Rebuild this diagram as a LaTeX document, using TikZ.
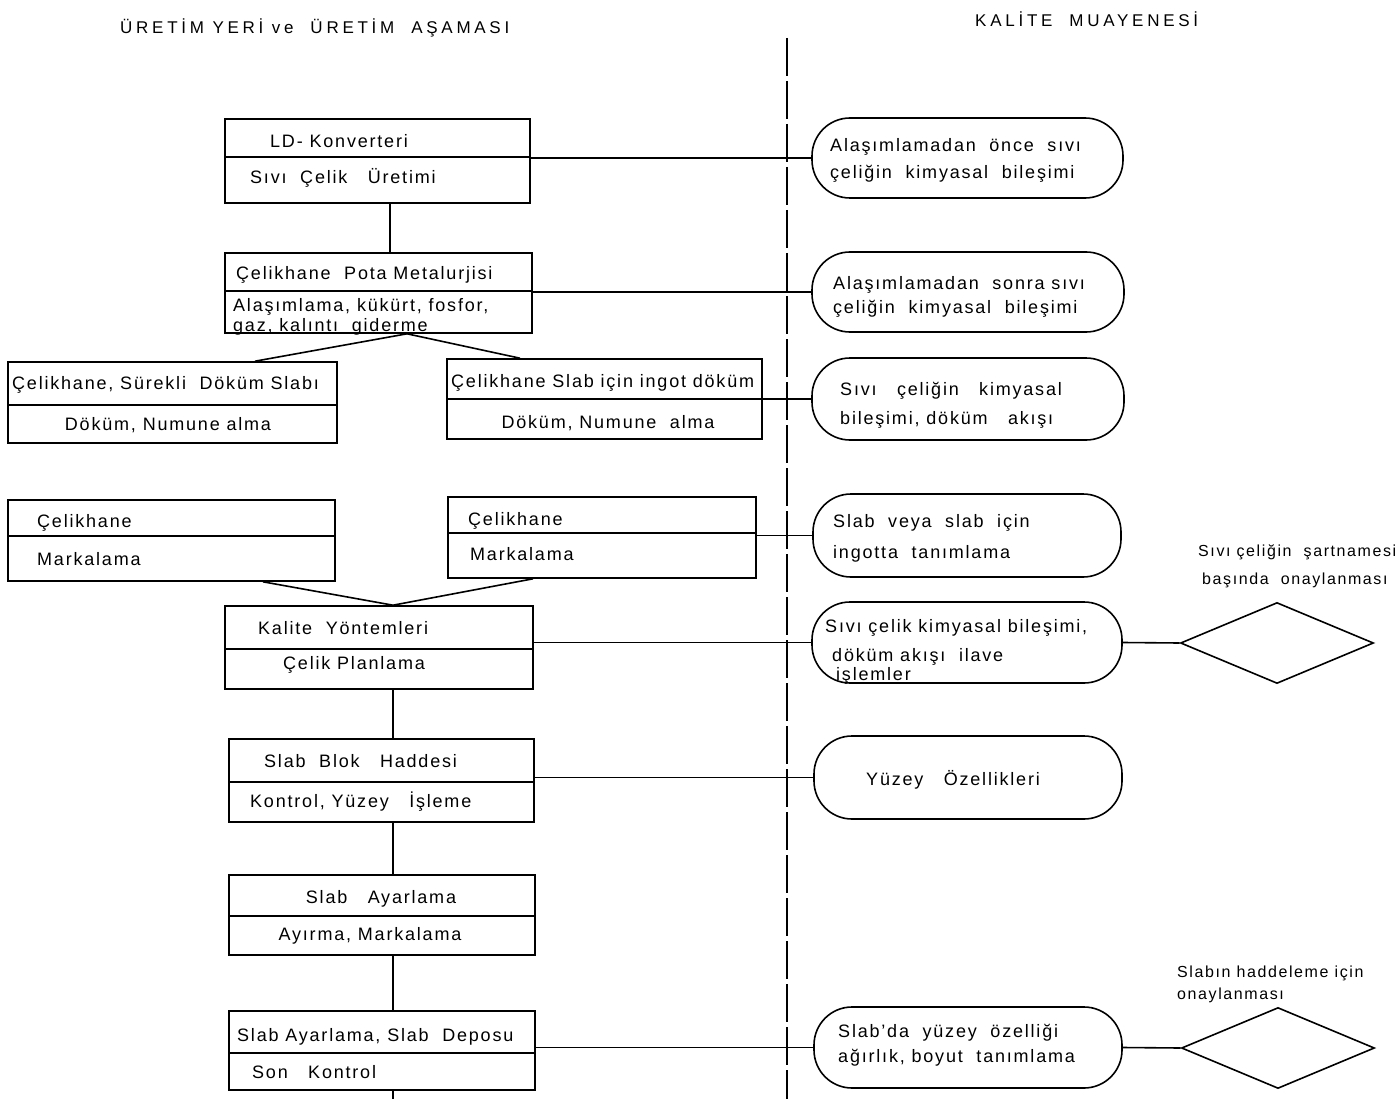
\documentclass[tikz,border=0pt]{standalone}
\usepackage{fontspec}
\setmainfont{Liberation Sans}
\usetikzlibrary{fit,shapes.geometric}
\begin{document}
\begin{tikzpicture}[x=1pt,y=-1pt,
  box/.style={draw, line width=1.6pt, inner sep=0pt},
  oval/.style={draw, line width=1.6pt, inner sep=0pt, rounded corners=38pt},
  dia/.style={draw, line width=1.6pt, shape=diamond, inner sep=0pt, minimum width=193pt, minimum height=81pt},
  conn/.style={line width=1.6pt},
  div/.style={line width=1.6pt},
  txt/.style={anchor=base west, inner sep=0pt, font=\fontsize{18}{21}\selectfont\addfontfeatures{LetterSpace=10}},
  ctxt/.style={anchor=base, inner sep=0pt, font=\fontsize{18}{21}\selectfont\addfontfeatures{LetterSpace=10}},
  lbl/.style={anchor=base west, inner sep=0pt, font=\fontsize{16}{19}\selectfont\addfontfeatures{LetterSpace=10}},
  hdr/.style={anchor=base west, inner sep=0pt, font=\fontsize{17}{20}\selectfont\addfontfeatures{LetterSpace=22}}]
\useasboundingbox (0,0) rectangle (1399,1099);
\fill[white] (0,0) rectangle (1399,1099);

% headers
\node[hdr] (h1) at (120,34) {ÜRETİM YERİ ve\ \ ÜRETİM\ \ AŞAMASI};
\node[hdr] (h2) at (975,27) {KALİTE\ \ MUAYENESİ};

% dashed divider
\coordinate (dtop) at (787,38);
\coordinate (dbot) at (787,1099);
\draw[line width=1.5pt, dash pattern=on 38pt off 5pt] (dtop) -- (dbot);

% left boxes
\node[box, fit={(225,119) (530,203)}] (b1) {};
\node[box, fit={(225,253) (532,333)}] (b2) {};
\node[box, fit={(8,362) (337,443)}] (b3) {};
\node[box, fit={(447,359) (762,439)}] (b4) {};
\node[box, fit={(8,500) (335,581)}] (b5) {};
\node[box, fit={(448,497) (756,578)}] (b6) {};
\node[box, fit={(225,606) (533,689)}] (b7) {};
\node[box, fit={(229,739) (534,822)}] (b8) {};
\node[box, fit={(229,875) (535,955)}] (b9) {};
\node[box, fit={(229,1011) (535,1090)}] (b10) {};

% dividers
\draw[div] (b1.west |- 0,157) -- (b1.east |- 0,157);
\draw[div] (b2.west |- 0,291) -- (b2.east |- 0,291);
\draw[div] (b3.west |- 0,405) -- (b3.east |- 0,405);
\draw[div] (b4.west |- 0,399) -- (b4.east |- 0,399);
\draw[div] (b5.west |- 0,536) -- (b5.east |- 0,536);
\draw[div] (b6.west |- 0,533) -- (b6.east |- 0,533);
\draw[div] (b7.west |- 0,649) -- (b7.east |- 0,649);
\draw[div] (b8.west |- 0,782) -- (b8.east |- 0,782);
\draw[div] (b9.west |- 0,916) -- (b9.east |- 0,916);
\draw[div] (b10.west |- 0,1053) -- (b10.east |- 0,1053);

% box texts
\node[txt] (t1a) at (270,148) {LD- Konverteri};
\node[txt] (t1b) at (250,184) {Sıvı\ \ Çelik\ \ \ Üretimi};
\node[txt] (t2a) at (236,279) {Çelikhane\ \ Pota Metalurjisi};
\node[txt] (t2b) at (233,311) {Alaşımlama, kükürt, fosfor,};
\node[txt] (t2c) at (233,331) {gaz, kalıntı\ \ giderme};
\node[txt] (t3a) at (12,389) {Çelikhane, Sürekli\ \ Döküm Slabı};
\node[ctxt] (t3b) at (168,430) {Döküm, Numune alma};
\node[txt] (t4a) at (451,387) {Çelikhane Slab için ingot döküm};
\node[ctxt] (t4b) at (608,428) {Döküm, Numune\ \ alma};
\node[txt] (t5a) at (37,527) {Çelikhane};
\node[txt] (t5b) at (37,565) {Markalama};
\node[txt] (t6a) at (468,525) {Çelikhane};
\node[txt] (t6b) at (470,560) {Markalama};
\node[txt] (t7a) at (258,634) {Kalite\ \ Yöntemleri};
\node[txt] (t7b) at (283,669) {Çelik\ Planlama};
\node[txt] (t8a) at (264,767) {Slab\ \ Blok\ \ \ Haddesi};
\node[txt] (t8b) at (250,807) {Kontrol, Yüzey\ \ \ İşleme};
\node[ctxt] (t9a) at (381,903) {Slab\ \ \ Ayarlama};
\node[ctxt] (t9b) at (370,940) {Ayırma, Markalama};
\node[txt] (t10a) at (237,1041) {Slab Ayarlama, Slab\ \ Deposu};
\node[txt] (t10b) at (252,1078) {Son\ \ \ Kontrol};

% ovals
\node[oval, fit={(812,118) (1123,198)}] (o1) {};
\node[oval, fit={(812,252) (1124,332)}] (o2) {};
\node[oval, fit={(812,358) (1124,440)}] (o3) {};
\node[oval, fit={(813,494) (1121,577)}] (o4) {};
\node[oval, fit={(812,602) (1122,683)}] (o5) {};
\node[oval, fit={(814,736) (1122,819)}] (o6) {};
\node[oval, fit={(814,1007) (1122,1088)}] (o7) {};

\node[txt] (s1a) at (830,152) {Alaşımlamadan\ \ önce\ \ sıvı};
\node[txt] (s1b) at (830,179) {çeliğin\ \ kimyasal\ \ bileşimi};
\node[txt] (s2a) at (833,289) {Alaşımlamadan\ \ sonra sıvı};
\node[txt] (s2b) at (833,313) {çeliğin\ \ kimyasal\ \ bileşimi};
\node[txt] (s3a) at (840,395) {Sıvı\ \ \ çeliğin\ \ \ kimyasal};
\node[txt] (s3b) at (840,424) {bileşimi, döküm\ \ \ akışı};
\node[txt] (s4a) at (833,527) {Slab\ \ veya\ \ slab\ \ için};
\node[txt] (s4b) at (833,558) {ingotta\ \ tanımlama};
\node[txt] (s5a) at (825,632) {Sıvı çelik\ kimyasal\ bileşimi,};
\node[txt] (s5b) at (832,661) {döküm\ akışı\ \ ilave};
\node[txt] (s5c) at (836,680) {işlemler};
\node[txt] (s6a) at (866,785) {Yüzey\ \ \ Özellikleri};
\node[txt] (s7a) at (838,1037) {Slab'da\ \ yüzey\ \ özelliği};
\node[txt] (s7b) at (838,1062) {ağırlık, boyut\ \ tanımlama};

% diamonds
\node[dia] (d1) at (1277,643) {};
\node[dia] (d2) at (1278,1048) {};
\node[lbl] (l1a) at (1198,556) {Sıvı\ çeliğin\ \ şartnamesi};
\node[lbl] (l1b) at (1202,584) {başında\ \ onaylanması};
\node[lbl] (l2a) at (1177,977) {Slabın haddeleme için};
\node[lbl] (l2b) at (1177,999) {onaylanması};

% vertical connectors
\coordinate (vx1) at (390,0);
\coordinate (vx2) at (393,0);
\draw[conn] (b1.south -| vx1) -- (b2.north -| vx1);
\draw[conn] (b7.south -| vx2) -- (b8.north -| vx2);
\draw[conn] (b8.south -| vx2) -- (b9.north -| vx2);
\draw[conn] (b9.south -| vx2) -- (b10.north -| vx2);
\coordinate (bend) at (393,1099);
\draw[conn] (b10.south -| vx2) -- (bend);

% branch connectors
\coordinate (ax) at (407,0);
\coordinate (lx3) at (255,0);
\coordinate (lx4) at (520,0);
\draw[conn] (b2.south -| ax) -- (b3.north -| lx3);
\draw[conn] (b2.south -| ax) -- (b4.north -| lx4);
\coordinate (lx5) at (263,0);
\coordinate (lx6) at (533,0);
\draw[conn] (b5.south -| lx5) -- (b7.north -| vx2);
\draw[conn] (b6.south -| lx6) -- (b7.north -| vx2);

% horizontal connectors to the quality column
\draw[conn] (b1.east |- o1.west) -- (o1.west);
\draw[conn] (b2.east |- o2.west) -- (o2.west);
\draw[conn] (b4.east |- o3.west) -- (o3.west);
\draw[conn] (b6.east |- o4.west) -- (o4.west);
\draw[conn] (b7.east |- o5.west) -- (o5.west);
\draw[conn] (b8.east |- o6.west) -- (o6.west);
\draw[conn] (b10.east |- o7.west) -- (o7.west);
\draw[conn] (o5.east) -- (d1.west);
\draw[conn] (o7.east) -- (d2.west);
\end{tikzpicture}
\end{document}
